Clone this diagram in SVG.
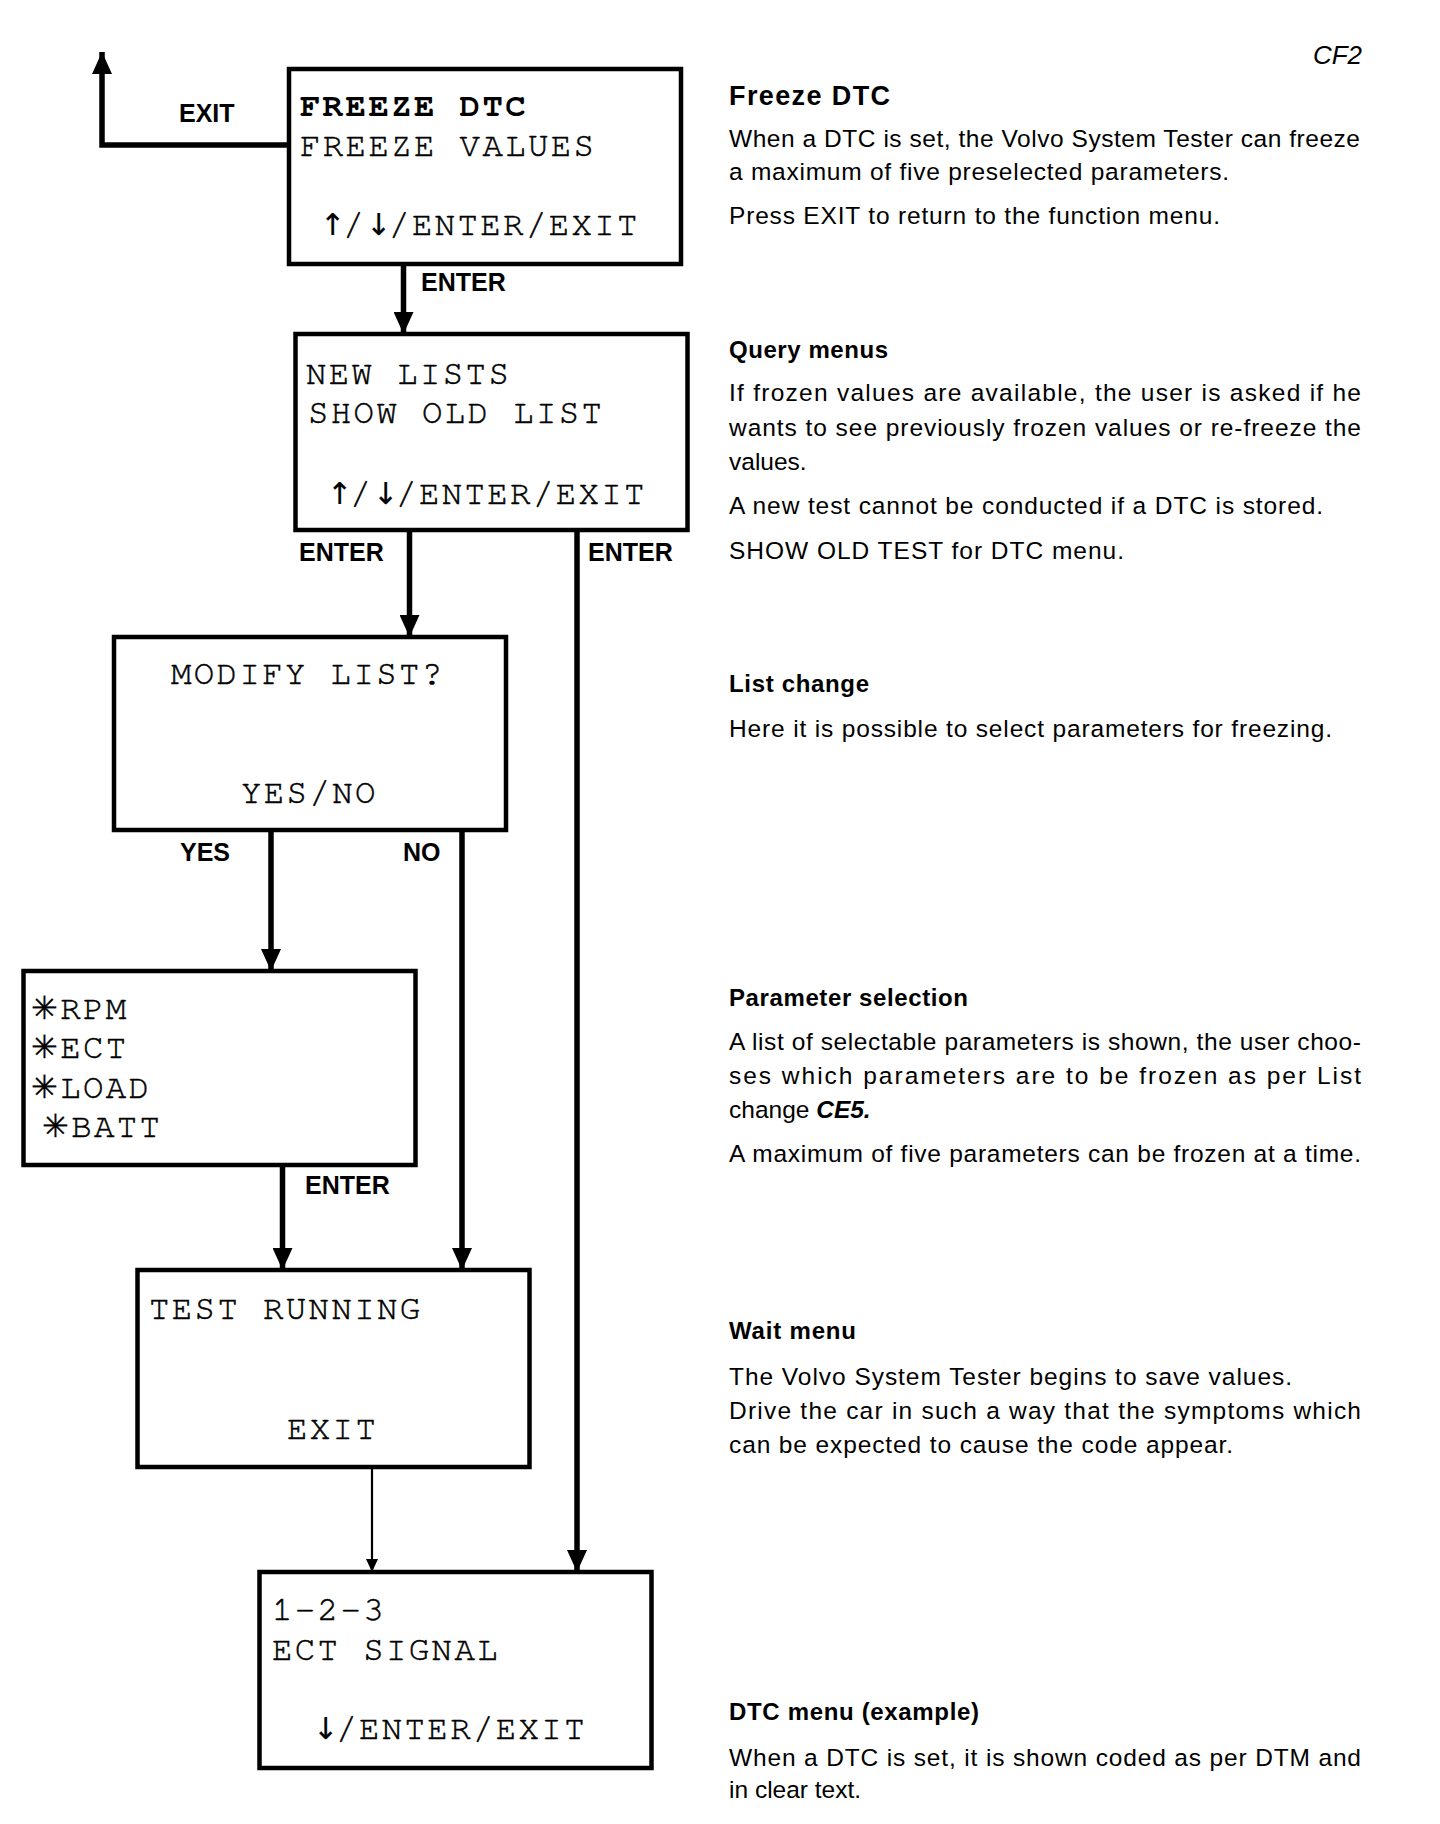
<svg xmlns="http://www.w3.org/2000/svg" width="1440" height="1824" viewBox="0 0 1440 1824">
<style>
.box{fill:#fff;stroke:#000;stroke-width:4.5}
.mono{font-family:"Nimbus Mono PS","Nimbus Mono L","FreeMono","Courier 10 Pitch","Courier New","Courier","Liberation Mono",monospace;font-size:34px;letter-spacing:2.4px;fill:#000;stroke:#000;stroke-width:0.5}
.monob{font-family:"Nimbus Mono PS","Nimbus Mono L","FreeMono","Courier 10 Pitch","Courier New","Courier","Liberation Mono",monospace;font-size:34px;letter-spacing:2.4px;font-weight:bold;fill:#000}
.star{font-family:"DejaVu Sans",sans-serif;font-size:32px;stroke-width:0.3}
.arr{font-family:"DejaVu Sans",sans-serif;font-size:30px;letter-spacing:-2px;stroke-width:0.2}
.lbl{font-family:"Liberation Sans",Arial,sans-serif;font-size:25px;font-weight:bold;fill:#000}
.h{font-family:"Liberation Sans",Arial,sans-serif;font-size:24px;font-weight:bold;fill:#000}
.t{font-family:"Liberation Sans",Arial,sans-serif;font-size:24.5px;fill:#000}
.thick{stroke:#000;stroke-width:5.5;fill:none}
.thin{stroke:#000;stroke-width:2.2;fill:none}
</style>
<defs>
<marker id="ah" markerUnits="userSpaceOnUse" markerWidth="22" markerHeight="20" refX="22" refY="10" orient="auto">
<path d="M0,0 L22,10 L0,20 z" fill="#000"/>
</marker>
<marker id="ahs" markerUnits="userSpaceOnUse" markerWidth="13" markerHeight="12" refX="13" refY="6" orient="auto">
<path d="M0,0 L13,6 L0,12 z" fill="#000"/>
</marker>
</defs>
<rect width="1440" height="1824" fill="#fff"/>

<g id="connectors">
<polyline class="thick" points="289,145 102,145 102,52" marker-end="url(#ah)"/>
<line class="thick" x1="403.5" y1="264" x2="403.5" y2="334" marker-end="url(#ah)"/>
<line class="thick" x1="409.5" y1="530" x2="409.5" y2="637" marker-end="url(#ah)"/>
<line class="thick" x1="577" y1="530" x2="577" y2="1572" marker-end="url(#ah)"/>
<line class="thick" x1="271" y1="830" x2="271" y2="971" marker-end="url(#ah)"/>
<line class="thick" x1="462" y1="830" x2="462" y2="1270" marker-end="url(#ah)"/>
<line class="thick" x1="282.5" y1="1165" x2="282.5" y2="1270" marker-end="url(#ah)"/>
<line class="thin" x1="372" y1="1467" x2="372" y2="1572" marker-end="url(#ahs)"/>
<text class="lbl" x="179" y="122">EXIT</text>
<text class="lbl" x="421" y="291">ENTER</text>
<text class="lbl" x="299" y="561">ENTER</text>
<text class="lbl" x="588" y="561">ENTER</text>
<text class="lbl" x="180" y="861">YES</text>
<text class="lbl" x="403" y="861">NO</text>
<text class="lbl" x="305" y="1194">ENTER</text>
</g>

<g id="freeze-dtc">
<rect class="box" x="289" y="69" width="392" height="195"/>
<text class="monob" x="300" y="116">FREEZE DTC</text>
<text class="mono" x="300" y="156">FREEZE VALUES</text>
<text class="mono" x="320" y="235"><tspan class="arr">↑</tspan>/<tspan class="arr">↓</tspan>/ENTER/EXIT</text>
</g>

<g id="new-lists">
<rect class="box" x="295.5" y="334" width="392" height="196"/>
<text class="mono" x="306" y="384">NEW LISTS</text>
<text class="mono" x="308" y="423">SHOW OLD LIST</text>
<text class="mono" x="327" y="504"><tspan class="arr">↑</tspan>/<tspan class="arr">↓</tspan>/ENTER/EXIT</text>
</g>

<g id="modify-list">
<rect class="box" x="114" y="637" width="392" height="193"/>
<text class="mono" x="171" y="684">MODIFY LIST?</text>
<text class="mono" x="241" y="803">YES/NO</text>
</g>

<g id="parameters">
<rect class="box" x="23.5" y="971" width="392" height="194"/>
<text class="mono" x="31" y="1019"><tspan class="star">✳</tspan>RPM</text>
<text class="mono" x="31" y="1058"><tspan class="star">✳</tspan>ECT</text>
<text class="mono" x="31" y="1098"><tspan class="star">✳</tspan>LOAD</text>
<text class="mono" x="42" y="1137"><tspan class="star">✳</tspan>BATT</text>
</g>

<g id="test-running">
<rect class="box" x="137.5" y="1270" width="392" height="197"/>
<text class="mono" x="149" y="1319">TEST RUNNING</text>
<text class="mono" x="287" y="1439">EXIT</text>
</g>

<g id="dtc-menu">
<rect class="box" x="259.5" y="1572" width="392" height="196"/>
<text class="mono" x="272" y="1620">1-2-3</text>
<text class="mono" x="272" y="1660">ECT SIGNAL</text>
<text class="mono" x="313" y="1739"><tspan class="arr">↓</tspan>/ENTER/EXIT</text>
</g>

<g id="descriptions">
<text x="1362" y="64" text-anchor="end" style="font-family:'Liberation Sans',Arial,sans-serif;font-size:26px;font-style:italic">CF2</text>
<text class="h" x="729" y="105" style="font-size:27px" textLength="161">Freeze DTC</text>
<text class="t" x="729" y="147" textLength="631">When a DTC is set, the Volvo System Tester can freeze</text>
<text class="t" x="729" y="180" textLength="500">a maximum of five preselected parameters.</text>
<text class="t" x="729" y="224" textLength="491">Press EXIT to return to the function menu.</text>

<text class="h" x="729" y="358" textLength="159">Query menus</text>
<text class="t" x="729" y="401" textLength="632">If frozen values are available, the user is asked if he</text>
<text class="t" x="729" y="436" textLength="632">wants to see previously frozen values or re-freeze the</text>
<text class="t" x="729" y="470">values.</text>
<text class="t" x="729" y="514" textLength="594">A new test cannot be conducted if a DTC is stored.</text>
<text class="t" x="729" y="559" textLength="395">SHOW OLD TEST for DTC menu.</text>

<text class="h" x="729" y="692" textLength="140">List change</text>
<text class="t" x="729" y="737" textLength="603">Here it is possible to select parameters for freezing.</text>

<text class="h" x="729" y="1006" textLength="239">Parameter selection</text>
<text class="t" x="729" y="1050" textLength="632">A list of selectable parameters is shown, the user choo-</text>
<text class="t" x="729" y="1084" textLength="632">ses which parameters are to be frozen as per List</text>
<text class="t" x="729" y="1118">change <tspan style="font-weight:bold;font-style:italic">CE5.</tspan></text>
<text class="t" x="729" y="1162" textLength="632">A maximum of five parameters can be frozen at a time.</text>

<text class="h" x="729" y="1339" textLength="127">Wait menu</text>
<text class="t" x="729" y="1385" textLength="563">The Volvo System Tester begins to save values.</text>
<text class="t" x="729" y="1419" textLength="632">Drive the car in such a way that the symptoms which</text>
<text class="t" x="729" y="1453" textLength="504">can be expected to cause the code appear.</text>

<text class="h" x="729" y="1720" textLength="250">DTC menu (example)</text>
<text class="t" x="729" y="1766" textLength="632">When a DTC is set, it is shown coded as per DTM and</text>
<text class="t" x="729" y="1798">in clear text.</text>
</g>
</svg>
